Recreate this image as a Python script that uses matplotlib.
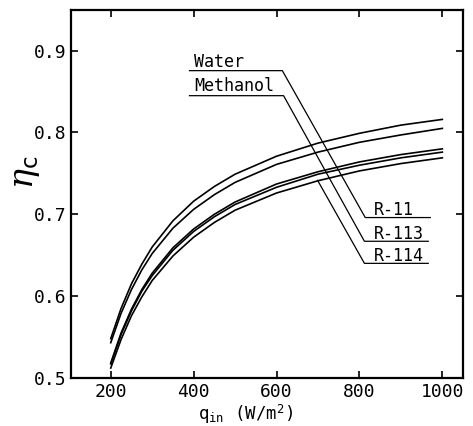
import matplotlib
matplotlib.use("Agg")
import matplotlib.pyplot as plt

plt.rcParams["font.family"] = "DejaVu Sans Mono"
plt.rcParams["mathtext.fontset"] = "custom"
plt.rcParams["mathtext.rm"] = "DejaVu Sans Mono"
plt.rcParams["mathtext.tt"] = "DejaVu Sans Mono"
plt.rcParams["mathtext.it"] = "DejaVu Serif:italic"

# heat flux q_in (W/m2)
q_in = [200, 225, 250, 275, 300, 350, 400, 450, 500, 600, 700, 800, 900, 1000]

# collector efficiency for each working fluid
eta_water = [0.548, 0.585, 0.615, 0.639, 0.660, 0.692, 0.716, 0.734, 0.749, 0.771, 0.787, 0.799, 0.809, 0.816]
eta_methanol = [0.543, 0.579, 0.608, 0.632, 0.652, 0.683, 0.706, 0.724, 0.739, 0.761, 0.776, 0.788, 0.797, 0.805]
eta_r11 = [0.518, 0.555, 0.584, 0.608, 0.628, 0.659, 0.682, 0.700, 0.715, 0.737, 0.752, 0.764, 0.773, 0.780]
eta_r113 = [0.517, 0.553, 0.582, 0.606, 0.625, 0.656, 0.679, 0.697, 0.712, 0.733, 0.749, 0.760, 0.769, 0.776]
eta_r114 = [0.512, 0.547, 0.576, 0.599, 0.619, 0.649, 0.672, 0.690, 0.705, 0.726, 0.741, 0.753, 0.762, 0.769]

fluids = ["Water", "Methanol", "R-11", "R-113", "R-114"]
series = [eta_water, eta_methanol, eta_r11, eta_r113, eta_r114]

# label anchors (left, baseline)
label_pos = {
    "Water":    (402, 0.880),
    "Methanol": (402, 0.851),
    "R-11":     (834, 0.699),
    "R-113":    (834, 0.670),
    "R-114":    (834, 0.643),
}

# leader polylines: underline + slanted stroke across the curves
leader_paths = [
    ([390, 614, 814, 971], [0.8756, 0.8756, 0.696, 0.696]),   # Water -> R-11
    ([390, 617, 812, 966], [0.845, 0.845, 0.667, 0.667]),     # Methanol -> R-113
    ([966, 812, 699], [0.640, 0.640, 0.7415]),                # R-114
]

fig = plt.figure(figsize=(4.73, 4.26), dpi=100)
ax = fig.add_axes([0.150, 0.113, 0.829, 0.864])

for name, eta in zip(fluids, series):
    ax.plot(q_in, eta, color="black", lw=1.2)

for xs, ys in leader_paths:
    ax.plot(xs, ys, color="black", lw=0.9)

for name in fluids:
    tx, ty = label_pos[name]
    ax.text(tx, ty, name, fontsize=12, va="baseline", ha="left")

ax.set_xlim(104, 1050)
ax.set_ylim(0.5, 0.95)
ax.set_xticks([200, 400, 600, 800, 1000])
ax.set_yticks([0.5, 0.6, 0.7, 0.8, 0.9])
ax.set_yticklabels(["0.5", "0.6", "0.7", "0.8", "0.9"])
ax.tick_params(axis="both", direction="in", length=5, width=1.2,
               top=True, right=True, labelsize=13)
ax.tick_params(axis="x", pad=4)
ax.tick_params(axis="y", pad=3)
for sp in ax.spines.values():
    sp.set_linewidth(1.6)

ax.set_xlabel(r"$\mathrm{q_{in}}$ (W/m$^\mathrm{2}$)", fontsize=12.5)
ax.xaxis.set_label_coords(0.446, -0.1)
ax.xaxis.label.set_va("center")
ax.set_ylabel(r"$\eta_\mathrm{c}$", fontsize=24)
ax.yaxis.set_label_coords(-0.115, 0.56)
ax.yaxis.label.set_va("center")

fig.savefig("out.png", dpi=100)
plt.close(fig)
